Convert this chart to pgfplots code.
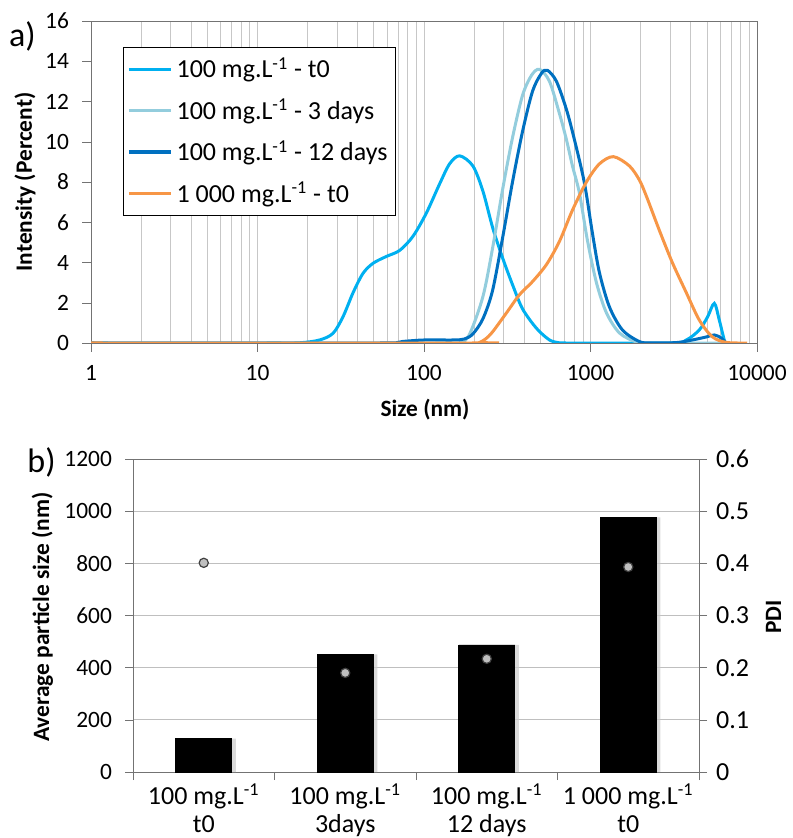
\documentclass[border=0pt]{standalone}
\usepackage{fontspec}
\setmainfont{Carlito}
\usepackage{pgfplots}
\pgfplotsset{compat=1.18}
\definecolor{cT}{HTML}{00B0F0}
\definecolor{cD}{HTML}{93CDDD}
\definecolor{cW}{HTML}{0070C0}
\definecolor{cO}{HTML}{F79646}
\newcommand{\fT}{\fontsize{11.7}{14}\selectfont}
\newcommand{\fL}{\fontsize{13}{14}\selectfont}
\begin{document}
\begin{tikzpicture}
\useasboundingbox (0,0) rectangle (396pt,-419pt);
\begin{axis}[
  at={(45.5pt,-171.5pt)}, anchor=south west, scale only axis,
  width=333pt, height=161pt,
  xmode=log, xmin=1, xmax=10000, ymin=0, ymax=16,
  xtick={1,10,100,1000,10000}, xticklabels={1,10,100,1000,10000},
  minor xtick={2,3,4,5,6,7,8,9,20,30,40,50,60,70,80,90,200,300,400,500,600,700,800,900,2000,3000,4000,5000,6000,7000,8000,9000},
  ytick={0,2,4,6,8,10,12,14,16},
  tick align=outside, tick pos=left, major tick length=4.5pt, minor tick length=0pt,
  xmajorgrids, xminorgrids, major grid style={black!22}, minor grid style={black!22},
  axis line style={black!55}, tick style={black!55},
  tick label style={font=\fT},
  xticklabel style={yshift=-3pt},
  yticklabel style={xshift=-3pt},
  /pgf/number format/assume math mode=true,
  legend style={at={(0.048,0.919)}, anchor=north west, draw=black, font=\fL,
    inner xsep=2pt, inner ysep=3pt, row sep=5pt, nodes={inner sep=2pt}},
  legend cell align=left,
  legend image code/.code={\draw[#1, line width=1.6pt] (0pt,0pt) -- (21pt,0pt);},
  every axis plot/.append style={line width=1.5pt, smooth, tension=0.5, no markers},
]
\addplot[cT] coordinates {
(1,0) (12,0) (17.9,0.01) (23.6,0.15) (28.4,0.48) (32.6,1.3) (37.5,2.5) (43.0,3.46) (49.4,3.96) (59.4,4.3) (71.4,4.6) (85.8,5.3) (103.2,6.45) (124,7.9) (142.4,8.9) (163.6,9.3) (196.5,8.8) (225.7,7.55) (259,5.7) (297.3,4.2) (340,2.9) (390.4,1.7) (473.7,0.73) (567,0.15) (650,0.01) (700,0) (3000,0) (3761,0.15) (4501,0.65) (5049,1.3) (5539,1.97) (5934,1.14) (6356,0.15) (6534,0) (6800,0)};
\addlegendentry{100 mg.L\textsuperscript{-1} - t0}
\addplot[cD] coordinates {
(1,0) (120,0) (165,0.03) (188,0.45) (225.7,2.3) (257.9,4.7) (296.1,7.6) (340,10.2) (390.4,12.3) (442.1,13.3) (493.8,13.6) (567,13.0) (650.7,11.4) (716.9,10.1) (778.9,8.8) (857.9,7.45) (958.3,5.1) (1085,3.0) (1246,1.5) (1491,0.5) (1885,0.05) (2300,0) (6500,0)};
\addlegendentry{100 mg.L\textsuperscript{-1} - 3 days}
\addplot[cW] coordinates {
(1,0) (55,0) (75,0.08) (100,0.15) (150,0.15) (175,0.2) (196.5,0.45) (225.7,1.2) (257.9,2.6) (296.1,5.2) (340,8.0) (390.4,10.5) (448.2,12.5) (507.6,13.4) (551.4,13.55) (624.3,13.0) (716.9,11.6) (800.6,10.1) (919.1,7.95) (1027,5.45) (1131,3.5) (1298,1.8) (1554,0.65) (1965,0.07) (2300,0.01) (3276,0.02) (4086,0.15) (4958,0.3) (5539,0.4) (6100,0.25) (6534,0) (6800,0)};
\addlegendentry{100 mg.L\textsuperscript{-1} - 12 days}
\addplot[cO] coordinates {
(1,0) (200,0) (215.6,0.03) (234.2,0.2) (257.9,0.55) (313,1.5) (374.6,2.4) (448.2,3.05) (543.9,3.9) (650.7,5.05) (778.9,6.6) (944.8,8.0) (1131,8.9) (1372,9.26) (1711,8.8) (1965,8.1) (2164,7.3) (2590,5.6) (3099,4.0) (3761,2.5) (4501,1.14) (5387,0.31) (6534,0.03) (8734,0)};
\addlegendentry{1 000 mg.L\textsuperscript{-1} - t0}
\end{axis}
\node[font=\fontsize{17}{19}\selectfont] at (11.25pt,-18pt) {a)};
\node[rotate=90, font=\fT\bfseries] at (12.5pt,-91pt) {Intensity (Percent)};
\node[font=\fT\bfseries] at (212.5pt,-205pt) {Size (nm)};
% bottom chart
\begin{axis}[
  at={(66.5pt,-386pt)}, anchor=south west, scale only axis,
  width=283pt, height=156.5pt,
  xmin=-0.5, xmax=3.5, ymin=0, ymax=1200,
  ytick={0,200,400,600,800,1000,1200},
  xtick={-0.5,0.5,1.5,2.5,3.5}, xticklabel=\empty,
  extra x ticks={0,1,2,3},
  extra x tick labels={{100 mg.L\textsuperscript{-1}\\t0},{100 mg.L\textsuperscript{-1}\\3days},{100 mg.L\textsuperscript{-1}\\12 days},{1 000 mg.L\textsuperscript{-1}\\t0}},
  extra x tick style={major tick length=0pt, tick label style={font=\fL, align=center, yshift=-2.5pt}},
  tick align=outside, tick pos=left, major tick length=4pt,
  ymajorgrids, major grid style={black!25},
  axis line style={black!55}, tick style={black!55},
  tick label style={font=\fT},
  yticklabel style={xshift=-3pt},
  /pgf/number format/assume math mode=true,
  /pgf/number format/1000 sep={},
]
\addplot[ybar, bar width=28pt, bar shift=2pt, fill=black!20, draw=none, opacity=0.7] coordinates {(0,128) (1,451) (2,487) (3,976)};
\addplot[ybar, bar width=28pt, bar shift=0pt, fill=black, draw=black] coordinates {(0,128) (1,451) (2,487) (3,976)};
\end{axis}
\begin{axis}[
  at={(66.5pt,-386pt)}, anchor=south west, scale only axis,
  width=283pt, height=156.5pt,
  xmin=-0.5, xmax=3.5, ymin=0, ymax=0.6,
  axis y line*=right, axis x line=none,
  ytick={0,0.1,0.2,0.3,0.4,0.5,0.6},
  tick align=outside, major tick length=4pt,
  axis line style={black!55}, tick style={black!55},
  tick label style={font=\fL},
  yticklabel style={/pgf/number format/fixed, /pgf/number format/precision=1, xshift=1pt},
  /pgf/number format/assume math mode=true,
]
\addplot[only marks, mark=*, mark size=2.3pt, mark options={fill=black!25, draw=black!75, line width=0.6pt}] coordinates {(0,0.401) (1,0.190) (2,0.217) (3,0.393)};
\end{axis}
\node[font=\fontsize{17}{19}\selectfont] at (20.75pt,-231pt) {b)};
\node[rotate=90, font=\fT\bfseries] at (21.25pt,-308.5pt) {Average particle size (nm)};
\node[rotate=90, font=\fT\bfseries] at (386.75pt,-308.5pt) {PDI};
\end{tikzpicture}
\end{document}
